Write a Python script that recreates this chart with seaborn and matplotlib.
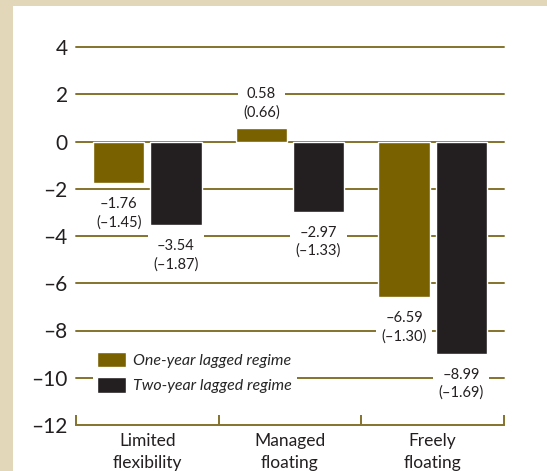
import pandas as pd
import numpy as np
import matplotlib.pyplot as plt
from matplotlib.patches import Rectangle
import seaborn as sns

categories = ["Limited\nflexibility", "Managed\nfloating", "Freely\nfloating"]
one_year = [-1.76, 0.58, -6.59]
two_year = [-3.54, -2.97, -8.99]
one_year_t = [-1.45, 0.66, -1.30]
two_year_t = [-1.87, -1.33, -1.69]
series = ["One-year lagged regime", "Two-year lagged regime"]
y_ticks = [4, 2, 0, -2, -4, -6, -8, -10, -12]

OLIVE = "#7a6100"
BLACK = "#231f20"
GRID = "#85722c"
BEIGE = "#e3d7b9"


def dash(v):
    # publication style uses an en dash for negatives
    s = f"{abs(v):.2f}"
    return ("\u2013" + s) if v < 0 else s


df = pd.DataFrame({
    "category": categories * 2,
    "value": one_year + two_year,
    "series": [series[0]] * 3 + [series[1]] * 3,
})

sns.set_style("white")
plt.rcParams["font.family"] = ["Lato", "DejaVu Sans"]

fig = plt.figure(figsize=(5.47, 4.71), dpi=100, facecolor=BEIGE)
fig.patches.append(Rectangle((13 / 547, 0), 1, (471 - 6) / 471, transform=fig.transFigure,
                             facecolor="white", edgecolor="none", zorder=-10))
ax = fig.add_axes([76 / 547, (471 - 425) / 471, (504 - 76) / 547, (425 - 47) / 471])
ax.set_facecolor("none")

sns.barplot(data=df, x="category", y="value", hue="series", order=categories,
            hue_order=series, palette=[OLIVE, BLACK], width=0.8, gap=0.1,
            saturation=1, ax=ax, zorder=3, legend=True)

ax.set_ylim(-12, 4)
ax.set_xlim(-0.5, 2.5)
ax.set_yticks(y_ticks)
ax.set_yticklabels([dash(t).replace(".00", "") for t in y_ticks], fontsize=15, color="#231f20")
ax.tick_params(axis="y", length=0, pad=6)
ax.set_xlabel("")
ax.set_ylabel("")
ax.tick_params(axis="x", length=0, labelsize=12.5, pad=6, labelcolor="#231f20")
for t in ax.get_xticklabels():
    t.set_linespacing(1.45)
ax.set_xticks([-0.5, 0.5, 1.5, 2.5], minor=True)
ax.tick_params(axis="x", which="minor", bottom=True, direction="in", length=7,
               width=1.4, color=GRID)

for h in y_ticks[:-1]:
    ax.axhline(h, color=GRID, lw=1.4, zorder=1, clip_on=False)
for s in ["left", "right", "top"]:
    ax.spines[s].set_visible(False)
ax.spines["bottom"].set_color(GRID)
ax.spines["bottom"].set_linewidth(1.4)

# negative labels sit further from the bar end than the positive one
for cont, vals, ts in zip(ax.containers, [one_year, two_year], [one_year_t, two_year_t]):
    full = [f"{dash(v)}\n({dash(t)})" for v, t in zip(vals, ts)]
    for positive, pad in [(True, 6), (False, 10)]:
        labels = [s if (v >= 0) == positive else "" for s, v in zip(full, vals)]
        txts = ax.bar_label(cont, labels=labels, padding=pad, fontsize=10.5,
                            color="#231f20", linespacing=1.35, zorder=5)
        for t in txts:
            if t.get_text():
                t.set_bbox(dict(facecolor="white", edgecolor="none", pad=4))

handles, labels = ax.get_legend_handles_labels()
leg = ax.legend(handles, labels, loc="lower left", bbox_to_anchor=(0.02, 0.05),
                frameon=True, facecolor="white", edgecolor="none", framealpha=1,
                fancybox=False, prop={"style": "italic", "size": 11.5},
                handlelength=1.8, handleheight=1.1, handletextpad=0.45,
                labelspacing=0.6, borderpad=0.3)
leg.set_zorder(6)

fig.savefig("out.png", dpi=100, facecolor=BEIGE)
